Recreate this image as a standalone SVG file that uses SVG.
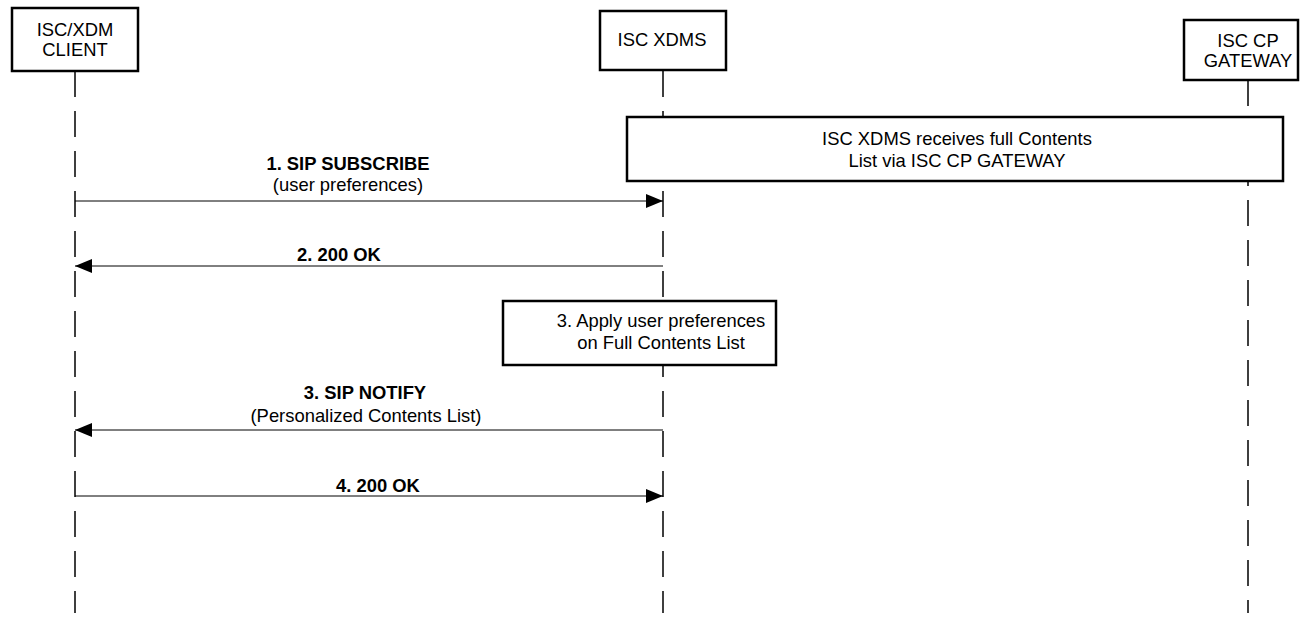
<svg xmlns="http://www.w3.org/2000/svg" width="1315" height="622" viewBox="0 0 1315 622">
<style>
.box{fill:#fff;stroke:#000;stroke-width:2.5}
.life{stroke:#000;stroke-width:1.5;stroke-dasharray:26 14;fill:none}
.msg{stroke:#000;stroke-width:1;fill:none}
text{font-family:"Liberation Sans",Arial,sans-serif;font-size:18.4px;fill:#000;text-anchor:middle}
.b{font-weight:bold}
</style>
<defs>
<marker id="ah" markerWidth="17" markerHeight="14" refX="17" refY="7" orient="auto" markerUnits="userSpaceOnUse">
<path d="M0,0 L17,7 L0,14 Z" fill="#000"/>
</marker>
</defs>
<g id="lifelines">
<line class="life" x1="75" y1="71" x2="75" y2="613"/>
<line class="life" x1="663" y1="71" x2="663" y2="613"/>
<line class="life" x1="1248" y1="80" x2="1248" y2="613"/>
</g>
<g id="client">
<rect class="box" x="12" y="8" width="126" height="63"/>
<text x="75" y="36">ISC/XDM</text>
<text x="75" y="56">CLIENT</text>
</g>
<g id="xdms">
<rect class="box" x="600" y="11" width="126" height="59"/>
<text x="662" y="46">ISC XDMS</text>
</g>
<g id="gateway">
<rect class="box" x="1184" y="20" width="114" height="60"/>
<text x="1248" y="47">ISC CP</text>
<text x="1248" y="67">GATEWAY</text>
</g>
<g id="note1">
<rect class="box" x="627" y="117" width="656" height="64"/>
<text x="957" y="145">ISC XDMS receives full Contents</text>
<text x="957" y="167">List via ISC CP GATEWAY</text>
</g>
<g id="note2">
<rect class="box" x="503" y="301" width="273" height="64"/>
<text x="661" y="327">3. Apply user preferences</text>
<text x="661" y="349">on Full Contents List</text>
</g>
<g id="connectors">
<line class="msg" x1="75" y1="201" x2="663" y2="201" marker-end="url(#ah)"/>
<line class="msg" x1="663" y1="266" x2="75" y2="266" marker-end="url(#ah)"/>
<line class="msg" x1="663" y1="430" x2="75" y2="430" marker-end="url(#ah)"/>
<line class="msg" x1="75" y1="496" x2="663" y2="496" marker-end="url(#ah)"/>
</g>
<g id="labels">
<text class="b" x="348" y="170">1. SIP SUBSCRIBE</text>
<text x="348" y="191">(user preferences)</text>
<text class="b" x="339" y="261">2. 200 OK</text>
<text class="b" x="365" y="399">3. SIP NOTIFY</text>
<text x="366" y="422">(Personalized Contents List)</text>
<text class="b" x="378" y="492">4. 200 OK</text>
</g>
</svg>
